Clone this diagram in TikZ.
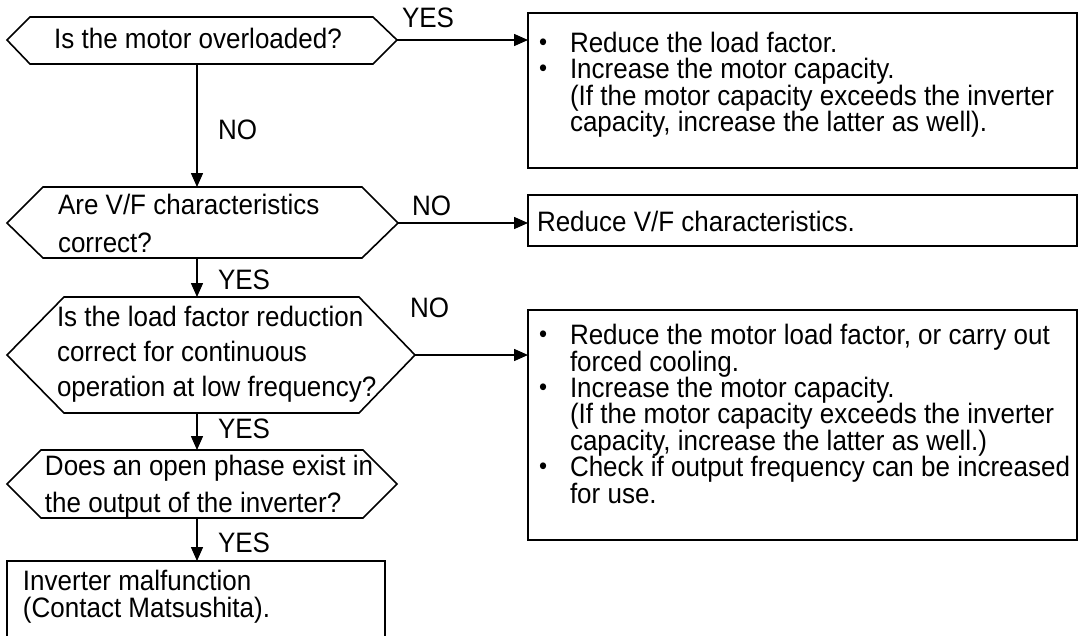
\documentclass[tikz,border=0pt]{standalone}
\usepackage{fontspec}
\usepackage{graphicx}
\setmainfont{Liberation Sans}
\usetikzlibrary{arrows.meta}
\newcommand\txtline[4]{\node[txt] (#1) at (#2,#3) {\scalebox{1}[1.08]{#4}};}
\newcommand\bul{\raisebox{1.5pt}{\fontsize{23}{23}\selectfont\textbullet}}
\begin{document}
\begin{tikzpicture}[x=1pt,y=-1pt,
  txt/.style={anchor=base west,inner sep=0pt,outer sep=0pt,font=\fontsize{26}{26.5}\selectfont},
  shapeline/.style={line width=1.6pt,line join=miter},
  boxnode/.style={draw,line width=1.6pt,inner sep=0pt,outer sep=0pt,anchor=north west},
  flow/.style={line width=1.5pt,-{Triangle[length=14pt,width=12pt]}}]
\path[use as bounding box,clip] (0,0) rectangle (1085,635);
\fill[white] (0,0) rectangle (1085,635);

% hexagon 1
\coordinate (h1l) at (7,40);  \coordinate (h1r) at (397,40);
\coordinate (h1t) at (197,17); \coordinate (h1b) at (197,64);
\draw[shapeline] (h1l) -- (30,17) -- (373,17) -- (h1r) -- (373,64) -- (30,64) -- cycle;
\node[txt,anchor=base] (q1) at (198,48) {\scalebox{1}[1.08]{Is the motor overloaded?}};

% hexagon 2
\coordinate (h2l) at (7,223);  \coordinate (h2r) at (398,223);
\coordinate (h2t) at (197,187); \coordinate (h2b) at (197,258);
\draw[shapeline] (h2l) -- (43,187) -- (362,187) -- (h2r) -- (362,258) -- (43,258) -- cycle;
\txtline{q2a}{58}{214}{Are V/F characteristics}
\txtline{q2b}{58}{252}{correct?}

% hexagon 3
\coordinate (h3l) at (7,355);  \coordinate (h3r) at (415,355);
\coordinate (h3t) at (197,297); \coordinate (h3b) at (197,413);
\draw[shapeline] (h3l) -- (64,297) -- (359,297) -- (h3r) -- (359,413) -- (64,413) -- cycle;
\txtline{q3a}{57}{326}{Is the load factor reduction}
\txtline{q3b}{57}{361}{correct for continuous}
\txtline{q3c}{57}{396}{operation at low frequency?}

% hexagon 4
\coordinate (h4l) at (7,484);  \coordinate (h4r) at (397,484);
\coordinate (h4t) at (197,450); \coordinate (h4b) at (197,518);
\draw[shapeline] (h4l) -- (41,450) -- (363,450) -- (h4r) -- (363,518) -- (41,518) -- cycle;
\txtline{q4a}{45}{475}{Does an open phase exist in}
\txtline{q4b}{45}{512}{the output of the inverter?}

% boxes
\node[boxnode,minimum width=549pt,minimum height=155pt] (b1) at (528,13) {};
\node[boxnode,minimum width=549pt,minimum height=51pt] (b2) at (528,195) {};
\node[boxnode,minimum width=549pt,minimum height=230pt] (b3) at (528,310) {};
\node[boxnode,minimum width=378pt,minimum height=100pt] (b4) at (7,561) {};

% box 1 text
\txtline{b1d1}{539}{52}{\bul}
\txtline{b1l1}{570}{52}{Reduce the load factor.}
\txtline{b1d2}{539}{78}{\bul}
\txtline{b1l2}{570}{78}{Increase the motor capacity.}
\txtline{b1l3}{570}{105}{(If the motor capacity exceeds the inverter}
\txtline{b1l4}{570}{131}{capacity, increase the latter as well).}

% box 2 text
\txtline{b2l1}{537}{231}{Reduce V/F characteristics.}

% box 3 text
\txtline{b3d1}{539}{344}{\bul}
\txtline{b3l1}{570}{344}{Reduce the motor load factor, or carry out}
\txtline{b3l2}{570}{371}{forced cooling.}
\txtline{b3d2}{539}{397}{\bul}
\txtline{b3l3}{570}{397}{Increase the motor capacity.}
\txtline{b3l4}{570}{423}{(If the motor capacity exceeds the inverter}
\txtline{b3l5}{570}{450}{capacity, increase the latter as well.)}
\txtline{b3d3}{539}{476}{\bul}
\txtline{b3l6}{570}{476}{Check if output frequency can be increased}
\txtline{b3l7}{570}{503}{for use.}

% box 4 text
\txtline{b4l1}{23}{590}{Inverter malfunction}
\txtline{b4l2}{23}{617}{(Contact Matsushita).}

% connectors
\draw[flow] (h1r) -- (h1r -| b1.west);
\draw[flow] (h1b) -- (h2t);
\draw[flow] (h2r) -- (h2r -| b2.west);
\draw[flow] (h2b) -- (h3t);
\draw[flow] (h3r) -- (h3r -| b3.west);
\draw[flow] (h3b) -- (h4t);
\draw[flow] (h4b) -- (h4b |- b4.north);

% labels
\txtline{yes1}{402}{27}{YES}
\txtline{no1}{218}{139}{NO}
\txtline{no2}{412}{215}{NO}
\txtline{yes2}{218}{289}{YES}
\txtline{no3}{410}{317}{NO}
\txtline{yes3}{218}{438}{YES}
\txtline{yes4}{218}{552}{YES}
\end{tikzpicture}
\end{document}
